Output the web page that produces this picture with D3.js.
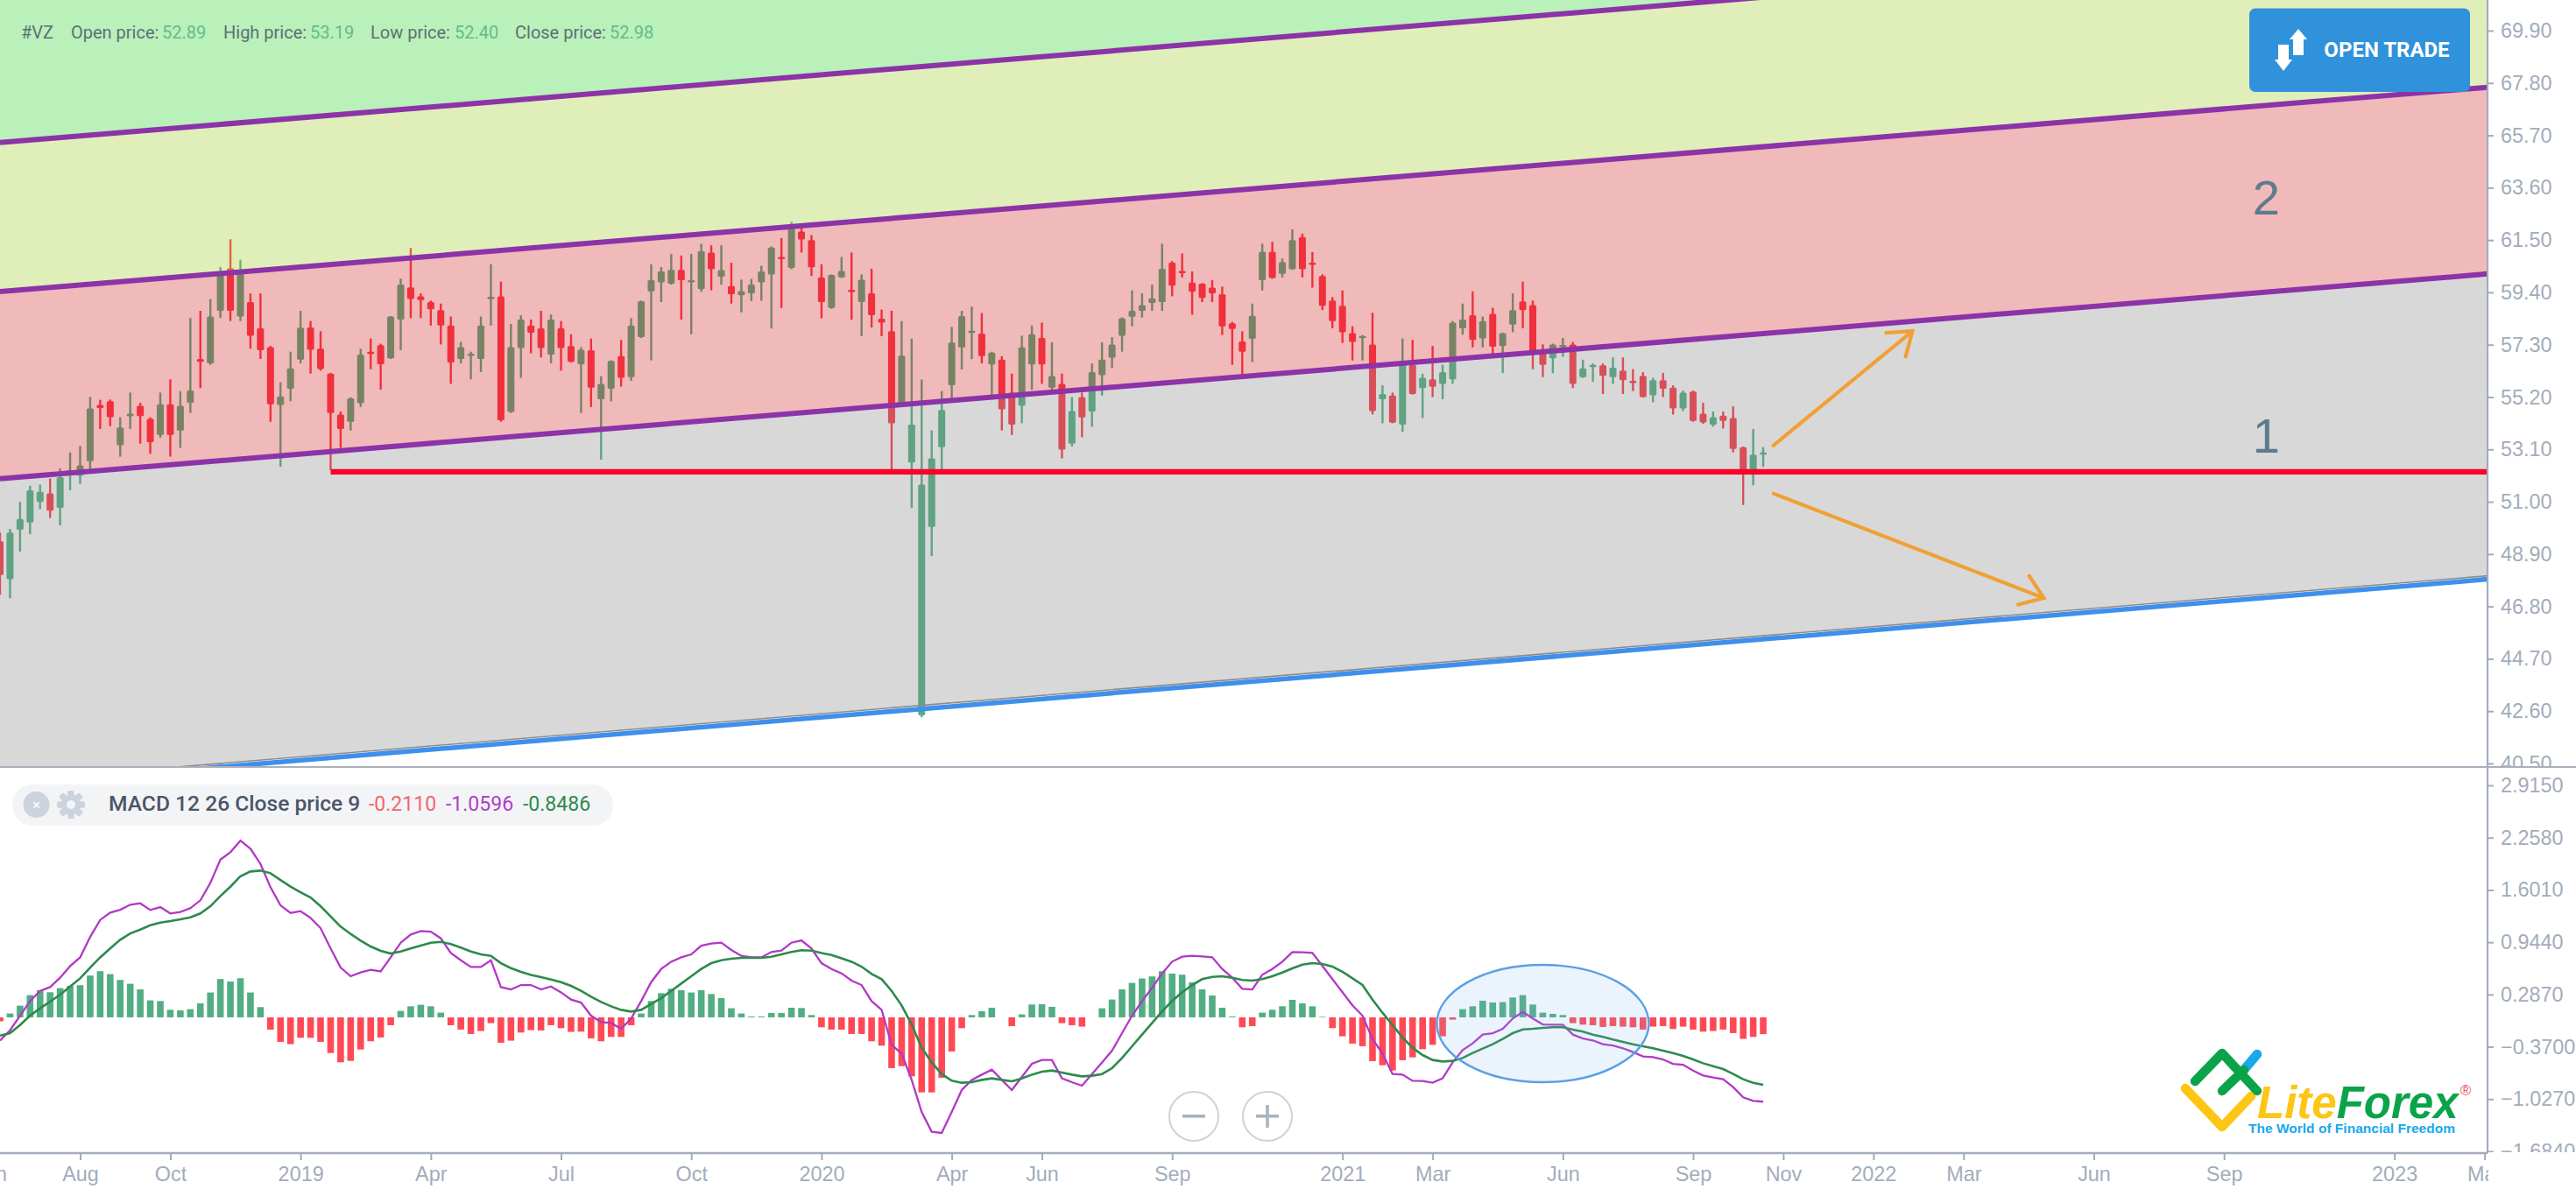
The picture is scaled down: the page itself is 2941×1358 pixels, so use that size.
<!DOCTYPE html>
<html><head><meta charset="utf-8">
<script src="https://cdn.jsdelivr.net/npm/d3@7/dist/d3.min.js"></script>
<style>html,body{margin:0;padding:0;background:#fff;overflow:hidden}svg{display:block}</style>
</head><body><svg id="c" width="2941" height="1358"></svg>
<script>
// Weekly candles: index 0 is the first week visible on the left of the chart
const candleOpen=[49.41,47.89,49.88,50.17,50.99,51.34,50.76,52.2,52.05,52.63,
54.88,55.03,53.27,54.43,54.85,54.33,53.68,54.91,53.86,54.97,
56.73,56.55,58.66,60.36,58.43,59.01,57.96,57.2,54.88,55.53,
56.7,57.99,57.14,56.14,54.5,54.21,54.95,57.02,57.28,56.75,
58.31,59.6,59.24,59.01,58.69,58.07,56.73,56.88,56.73,59.19,
59.24,54.6,57.17,58.07,57.96,56.9,57.96,57.25,56.52,57.08,
55.11,55.53,56.84,56.0,57.61,59.44,59.8,59.75,60.3,59.83,
59.53,61.0,60.03,59.65,59.28,59.36,59.8,60.12,60.82,60.38,
61.84,61.5,60.0,58.77,60.0,59.5,59.01,59.36,58.34,57.84,
54.97,52.57,42.43,49.99,53.19,55.67,57.19,57.78,57.75,56.51,
56.7,55.38,54.85,56.51,57.57,55.58,55.73,53.33,55.2,54.62,
56.08,56.78,57.66,58.42,58.66,58.98,59.01,60.59,60.26,59.79,
59.75,59.59,59.33,58.16,57.43,57.54,59.89,61.03,60.14,60.33,
61.62,60.59,60.06,59.07,58.86,57.76,57.6,57.31,55.11,55.26,
54.09,56.49,55.56,55.91,55.73,55.91,57.96,58.48,57.55,58.54,
57.25,58.11,59.04,58.89,57.08,56.75,57.22,57.31,56.0,56.44,
56.47,56.0,56.26,55.85,56.05,55.27,55.88,55.58,54.74,55.42,
54.53,54.09,54.45,54.36,53.19,52.28,52.89];
const candleHigh=[49.76,49.91,50.99,51.64,51.69,51.93,52.34,52.98,53.24,55.21,
55.09,55.1,54.39,55.38,54.97,54.39,55.38,55.91,55.44,58.37,
58.66,59.13,60.42,61.53,60.71,59.36,59.36,57.25,55.79,57.02,
58.66,58.25,57.84,56.17,54.62,55.19,57.14,57.55,57.34,58.45,
59.95,61.18,59.36,59.07,58.95,58.43,57.41,57.02,58.43,60.53,
59.83,58.13,58.48,58.31,58.66,58.51,58.25,57.72,57.2,57.55,
56.03,56.67,57.49,58.37,59.07,60.53,60.42,60.94,60.88,60.94,
61.35,61.29,61.29,60.59,59.91,59.94,60.47,61.24,61.58,62.23,
61.99,61.7,60.53,60.12,60.82,61.0,60.12,60.35,58.71,58.66,
58.25,57.54,55.9,53.86,55.44,58.01,58.66,58.83,58.57,57.02,
56.84,56.14,57.66,58.07,58.19,57.4,56.14,55.2,55.38,56.55,
57.4,57.6,58.4,59.48,59.36,59.71,61.35,60.65,60.96,60.24,
59.77,59.89,59.63,58.22,57.84,58.95,61.35,61.43,60.76,61.93,
61.76,61.02,60.12,59.21,59.48,58.04,57.69,58.58,55.67,55.38,
57.55,57.49,56.14,57.25,56.49,58.25,58.95,59.44,58.43,58.78,
57.78,59.36,59.83,59.07,57.31,57.34,57.57,57.41,56.7,56.55,
56.55,56.79,56.79,56.32,56.2,55.97,56.17,55.67,55.46,55.46,
54.97,54.62,54.62,54.83,53.21,53.92,53.19];
const candleLow=[47.27,47.13,49.0,49.70,50.70,50.35,50.05,51.46,51.72,52.28,
53.92,54.03,52.81,53.92,53.33,52.92,53.57,52.81,53.16,54.56,
55.56,56.49,58.37,58.25,58.25,57.14,56.73,54.21,52.4,55.03,
56.55,56.14,56.26,52.28,53.16,53.86,54.8,56.32,55.5,56.73,
57.08,58.37,58.37,58.07,57.31,55.73,56.55,55.91,56.2,58.07,
54.21,54.56,55.97,56.96,56.79,56.55,56.26,56.59,54.56,54.8,
52.69,55.03,55.62,55.85,57.57,56.67,59.01,59.71,58.31,57.72,
59.42,59.48,59.71,58.95,58.6,59.05,59.07,57.95,58.77,60.33,
61.0,60.06,58.36,58.74,59.98,58.3,57.64,57.99,57.64,52.22,
54.85,50.75,42.35,48.82,52.1,55.08,56.31,56.72,56.55,55.26,
53.86,53.68,54.15,55.49,55.73,55.38,52.74,53.22,53.59,54.01,
55.26,56.37,57.02,58.04,58.39,58.66,58.66,59.24,60.0,58.5,
59.01,59.01,57.69,56.49,56.02,56.61,59.48,59.95,60.0,60.3,
60.0,59.59,58.69,57.96,57.37,56.67,56.67,54.5,54.15,54.15,
53.8,55.3,54.36,55.2,55.11,55.73,57.7,57.19,57.19,56.87,
56.16,57.8,57.96,56.32,56.0,56.16,56.82,55.56,55.97,55.81,
55.32,55.73,55.32,55.44,55.18,54.99,55.2,54.5,54.64,54.21,
54.13,54.01,53.94,52.98,50.87,51.66,52.40];
const candleClose=[48.06,49.76,50.31,51.46,51.40,50.64,51.99,52.26,52.46,54.74,
54.76,54.39,53.98,54.53,54.44,53.39,54.91,53.68,54.85,55.46,
56.61,58.43,60.12,58.66,60.24,57.66,57.08,54.91,55.23,56.35,
57.98,57.1,56.32,54.56,53.92,55.15,56.9,56.93,56.52,58.43,
59.71,59.13,59.09,58.72,58.07,56.59,57.2,56.94,58.07,59.22,
54.27,57.2,58.31,57.78,57.17,58.31,57.17,56.61,57.1,55.58,
55.73,56.65,55.97,58.07,59.05,59.89,60.24,60.3,59.89,59.89,
61.06,60.33,60.29,59.33,59.45,59.71,60.24,61.2,60.77,61.99,
61.52,60.41,59.01,60.1,60.26,59.42,59.91,58.48,58.19,54.15,
56.86,54.09,51.69,52.74,54.68,57.39,58.45,57.86,56.84,56.98,
54.71,54.09,57.19,57.72,56.51,56.04,53.09,54.64,54.38,56.2,
56.7,57.31,58.36,58.66,58.89,59.16,60.35,59.67,60.21,59.42,
59.18,59.36,58.04,57.93,57.02,58.46,61.03,59.98,60.61,61.5,
60.33,60.5,58.86,58.25,57.8,57.41,57.65,54.64,55.32,54.17,
56.49,55.32,55.97,55.61,56.2,58.19,58.31,57.49,58.25,57.22,
57.76,58.69,58.69,57.02,56.49,57.31,57.29,55.73,56.35,56.49,
56.05,56.38,55.88,55.77,55.2,55.88,55.53,54.74,55.38,54.24,
54.18,54.39,54.24,53.12,52.22,52.89,52.98];

// MACD panel, same weeks as the candles
const macdHist=[-.05,.048,.147,.279,.341,.315,.367,.396,.404,.525,
.58,.543,.47,.422,.352,.213,.205,.095,.088,.103,
.176,.312,.481,.451,.492,.312,.128,-.154,-.308,-.337,
-.257,-.257,-.308,-.448,-.565,-.547,-.404,-.301,-.253,-.099,
.081,.139,.158,.139,.059,-.099,-.154,-.209,-.172,-.073,
-.319,-.293,-.191,-.161,-.165,-.099,-.136,-.183,-.18,-.264,
-.301,-.246,-.246,-.099,.048,.205,.304,.36,.341,.312,
.341,.293,.242,.114,.048,.011,.011,.055,.055,.121,
.117,.029,-.125,-.154,-.154,-.209,-.209,-.301,-.356,-.638,
-.613,-.741,-.943,-.943,-.759,-.429,-.136,.029,.077,.121,
0,-.11,.037,.161,.165,.132,-.073,-.099,-.117,0,
.114,.224,.352,.433,.488,.514,.58,.55,.536,.44,
.352,.275,.121,.011,-.125,-.11,.059,.095,.139,.22,
.176,.139,.007,-.136,-.238,-.33,-.363,-.55,-.602,-.668,
-.539,-.503,-.4,-.345,-.238,-.029,.103,.139,.209,.187,
.191,.249,.279,.161,.059,.044,.029,-.073,-.092,-.099,
-.121,-.11,-.117,-.125,-.154,-.117,-.11,-.147,-.117,-.154,
-.18,-.172,-.154,-.198,-.271,-.246,-.211];
const macdLine=[-.291,-.163,.021,.204,.333,.38,.498,.644,.754,1.011,
1.224,1.316,1.352,1.415,1.433,1.349,1.385,1.305,1.323,1.371,
1.47,1.69,1.983,2.075,2.222,2.119,1.928,1.635,1.407,1.312,
1.334,1.25,1.121,.865,.626,.516,.564,.597,.578,.754,
.938,1.041,1.085,1.077,.993,.809,.718,.633,.633,.718,
.38,.351,.406,.406,.351,.388,.314,.223,.186,.021,
-.06,-.071,-.144,-.016,.204,.443,.608,.699,.754,.791,
.901,.927,.938,.846,.773,.754,.754,.821,.839,.938,
.967,.865,.681,.608,.553,.461,.406,.204,.095,-.345,
-.455,-.786,-1.189,-1.438,-1.453,-1.189,-.914,-.786,-.72,-.657,
-.786,-.914,-.749,-.584,-.536,-.536,-.767,-.815,-.859,-.712,
-.566,-.419,-.199,.021,.205,.37,.553,.7,.762,.773,
.766,.755,.608,.498,.359,.351,.535,.608,.7,.821,
.817,.81,.645,.48,.315,.15,.021,-.272,-.455,-.712,
-.72,-.797,-.8,-.822,-.767,-.566,-.411,-.327,-.217,-.199,
-.144,-.015,.069,-.015,-.089,-.092,-.092,-.217,-.265,-.29,
-.338,-.353,-.389,-.437,-.492,-.5,-.529,-.584,-.595,-.668,
-.731,-.756,-.778,-.877,-1.006,-1.05,-1.0596];
const macdSignal=[-.229,-.199,-.097,.021,.113,.197,.285,.388,.49,.626,
.754,.865,.975,1.055,1.103,1.158,1.191,1.209,1.231,1.257,
1.305,1.396,1.525,1.642,1.774,1.833,1.844,1.811,1.726,1.642,
1.572,1.506,1.396,1.268,1.14,1.048,.964,.89,.835,.802,
.828,.865,.901,.938,.949,.92,.876,.828,.791,.773,
.681,.619,.571,.534,.505,.476,.443,.395,.333,.259,
.193,.138,.094,.072,.094,.168,.241,.333,.424,.516,
.608,.681,.718,.736,.747,.747,.747,.762,.791,.821,
.843,.839,.809,.784,.743,.699,.637,.546,.48,.333,
.15,-.089,-.382,-.566,-.712,-.797,-.822,-.815,-.786,-.767,
-.786,-.804,-.767,-.72,-.683,-.668,-.694,-.72,-.742,-.734,
-.712,-.639,-.511,-.364,-.217,-.07,.076,.205,.315,.406,
.48,.509,.517,.498,.469,.462,.48,.517,.564,.616,
.663,.682,.671,.638,.572,.491,.406,.223,.058,-.096,
-.254,-.382,-.474,-.536,-.555,-.547,-.511,-.448,-.393,-.338,
-.272,-.199,-.151,-.144,-.133,-.125,-.125,-.155,-.18,-.217,
-.246,-.279,-.309,-.338,-.364,-.389,-.419,-.448,-.485,-.529,
-.577,-.613,-.65,-.712,-.778,-.822,-.8486];

// Axis labels
const priceTicks=[69.9,67.8,65.7,63.6,61.5,59.4,57.3,55.2,53.1,51.0,48.9,46.8,44.7,42.6,40.5];
const macdTicks=[2.915,2.258,1.601,.944,.287,-.37,-1.027,-1.684];
const timeTickWeeks=[-1,8,17,30,43,56,69,82,95,104,117,134,143,156,169,178,187,196,209,222,239,248];
const timeTickLabels=["Jun","Aug","Oct","2019","Apr","Jul","Oct","2020","Apr","Jun","Sep","2021","Mar","Jun","Sep","Nov","2022","Mar","Jun","Sep","2023","Mar"];

// Channel lines (week at both ends of the chart, price at those weeks)
const channelWeeks=[0,248.3];
const channelBlue=[39.63,47.89];
const channelGrey=[39.77,48.03];
const channelOne=[51.92,60.14];
const channelTwo=[59.43,67.63];
const channelThree=[65.41,73.64];
const channelRoof=[90,90];
const supportPrice=52.2, supportStartWeek=33;
const upArrowWeeks=[176.9,190.9], upArrowPrices=[53.22,57.85];
const downArrowWeeks=[176.9,204], downArrowPrices=[51.35,47.14];
const circleWeek=154, circleValue=-.078;
const zoneLabels=["2","1"], zoneLabelWeek=226.2, zoneLabelPrices=[62.52,52.97];

const PW=2840, mainBottom=876, panelBottom=1317;
const svg=d3.select("#c");
const x=d3.scaleLinear().domain([0,248.3]).range([0,PW]);
const y=d3.scaleLinear().domain([69.9,40.5]).range([35,872]);
const ym=d3.scaleLinear().domain([2.915,-1.684]).range([897,1315]);

const defs=svg.append("defs");
const clip=(id,a,b,w,h)=>defs.append("clipPath").attr("id",id).append("rect").attr("x",a).attr("y",b).attr("width",w).attr("height",h);
clip("main",0,0,PW,mainBottom);
clip("panel",0,mainBottom,PW,panelBottom-mainBottom);
clip("ya",PW,0,120,mainBottom);
clip("yb",PW,mainBottom,120,panelBottom-mainBottom-1);
clip("xa",0,panelBottom,PW+1,50);

const main=svg.append("g").attr("clip-path","url(#main)");
const idx=d3.range(candleOpen.length);
const GREEN="#53b285", RED="#ff3c4b";
const col=i=>candleClose[i]>=candleOpen[i]?GREEN:RED;

// candles sit under the translucent channel fills
const cg=main.append("g");
cg.selectAll("line").data(idx).join("line")
  .attr("x1",i=>x(i)).attr("x2",i=>x(i))
  .attr("y1",i=>y(candleHigh[i])).attr("y2",i=>y(candleLow[i]))
  .attr("stroke",col).attr("stroke-width",2.4);
cg.selectAll("rect").data(idx).join("rect")
  .attr("x",i=>x(i)-4).attr("width",8).attr("rx",1.5)
  .attr("y",i=>Math.min(y(candleOpen[i]),y(candleClose[i])))
  .attr("height",i=>Math.max(2.5,Math.abs(y(candleOpen[i])-y(candleClose[i]))))
  .attr("fill",col);

const band=(lo,hi,fill)=>main.append("path")
  .attr("d",d3.area().x(d=>x(d)).y0((d,i)=>y(lo[i])).y1((d,i)=>y(hi[i]))(channelWeeks))
  .attr("fill",fill).attr("fill-opacity",.3);
band(channelGrey,channelOne,"rgb(125,125,125)");
band(channelOne,channelTwo,"rgb(205,22,28)");
band(channelTwo,channelThree,"rgb(152,198,28)");
band(channelThree,channelRoof,"rgb(28,205,28)");

const chLine=(vals,stroke,w)=>main.append("path")
  .attr("d",d3.line().x(d=>x(d)).y((d,i)=>y(vals[i]))(channelWeeks))
  .attr("fill","none").attr("stroke",stroke).attr("stroke-width",w);
chLine(channelGrey,"#8f8a86",1.6);
chLine(channelBlue,"#3f8fec",5.5);
chLine(channelOne,"#8c33a8",6);
chLine(channelTwo,"#8c33a8",6);
chLine(channelThree,"#8c33a8",6);

main.append("line").attr("x1",x(supportStartWeek)).attr("x2",PW)
  .attr("y1",y(supportPrice)).attr("y2",y(supportPrice))
  .attr("stroke","#fb0028").attr("stroke-width",6.4);

// forecast arrows
const arrow=(wk,pr)=>{
  const [x0,x1]=wk.map(x),[y0,y1]=pr.map(y);
  const a=Math.atan2(y1-y0,x1-x0),L=32,s=.62;
  const h=(t)=>[x1-L*Math.cos(a+t),y1-L*Math.sin(a+t)];
  const d=d3.path();
  d.moveTo(x0,y0);d.lineTo(x1,y1);
  const p=h(s),q=h(-s);
  d.moveTo(p[0],p[1]);d.lineTo(x1,y1);d.lineTo(q[0],q[1]);
  main.append("path").attr("d",d.toString()).attr("fill","none")
    .attr("stroke","#f0a035").attr("stroke-width",4.2);
};
arrow(upArrowWeeks,upArrowPrices);
arrow(downArrowWeeks,downArrowPrices);

zoneLabels.forEach((t,i)=>main.append("text").attr("x",x(zoneLabelWeek)).attr("y",y(zoneLabelPrices[i])).text(t)
  .attr("text-anchor","middle").attr("font-family","Liberation Sans, Arial, sans-serif")
  .attr("font-size",56).attr("fill","#5e7b8d"));

// header
const hdr=svg.append("text").attr("y",44).attr("font-family","Roboto, sans-serif").attr("font-size",20);
const hdrItems=[["#VZ",24,"#5a7077"],["Open price:",81,"#5a7077"],["52.89",185,"#62bc8c"],["High price:",255,"#5a7077"],["53.19",354,"#62bc8c"],["Low price:",423,"#5a7077"],["52.40",519,"#62bc8c"],["Close price:",588,"#5a7077"],["52.98",696,"#62bc8c"]];
hdrItems.forEach(d=>hdr.append("tspan").attr("x",d[1]).attr("fill",d[2]).text(d[0]));

// button
svg.append("rect").attr("x",2568).attr("y",9.5).attr("width",252).attr("height",95.5).attr("rx",7).attr("fill","#3092db");
svg.append("path").attr("fill","#fff").attr("d","M2624 33L2634 45L2630 45L2630 63L2618 63L2618 45L2614 45ZM2607 81L2617 68L2613 68L2613 51L2601 51L2601 68L2597 68Z");
svg.append("text").attr("x",2725).attr("y",65).attr("text-anchor","middle").attr("font-family","Roboto, sans-serif").attr("font-weight",700).attr("font-size",24).attr("fill","#fff").text("OPEN TRADE");

// MACD panel
const panel=svg.append("g").attr("clip-path","url(#panel)");
panel.append("g").selectAll("rect").data(idx).join("rect")
  .attr("x",i=>x(i)-3.8).attr("width",7.6)
  .attr("y",i=>Math.min(ym(0),ym(macdHist[i])))
  .attr("height",i=>Math.abs(ym(0)-ym(macdHist[i])))
  .attr("fill",i=>macdHist[i]>=0?"#52ad83":"#ff4a56");
const ln=d3.line().x((d,i)=>x(i)).y(d=>ym(d));
panel.append("path").attr("d",ln(macdLine)).attr("fill","none").attr("stroke","#b238c6").attr("stroke-width",2.3);
panel.append("path").attr("d",ln(macdSignal)).attr("fill","none").attr("stroke","#2d8a4c").attr("stroke-width",2.6);
panel.append("ellipse").attr("cx",x(circleWeek)).attr("cy",ym(circleValue)).attr("rx",121).attr("ry",67)
  .attr("fill","#7ab4ee").attr("fill-opacity",.15).attr("stroke","#5b9fe6").attr("stroke-width",2.4);

// MACD legend pill
svg.append("rect").attr("x",14).attr("y",896).attr("width",686).attr("height",47).attr("rx",23).attr("fill","#f3f4f6");
svg.append("circle").attr("cx",41.5).attr("cy",919).attr("r",15).attr("fill","#ccd3dd");
svg.append("text").attr("x",41.5).attr("y",925).attr("text-anchor","middle").attr("font-family","Roboto, sans-serif").attr("font-size",17).attr("fill","#fff").text("×");
const gear=svg.append("g").attr("transform","translate(81,919)");
d3.range(8).forEach(k=>gear.append("rect").attr("x",-3.5).attr("y",-16).attr("width",7).attr("height",32).attr("rx",1.5).attr("fill","#ccd3dd").attr("transform",`rotate(${k*45})`));
gear.append("circle").attr("r",11.5).attr("fill","#ccd3dd");
gear.append("circle").attr("r",5).attr("fill","#f3f4f6");
const pill=[["MACD 12 26 Close price 9",124,"#4b5669",24.6,500],["-0.2110",421,"#f4646e",23,400],["-1.0596",509,"#b03fc4",23,400],["-0.8486",597,"#2d8a4c",23,400]];
pill.forEach(d=>svg.append("text").attr("x",d[1]).attr("y",926).attr("font-family","Roboto, sans-serif").attr("font-weight",d[4]).attr("font-size",d[3]).attr("fill",d[2]).text(d[0]));

// zoom buttons
[[1363,"-"],[1447,"+"]].forEach(d=>{
  svg.append("circle").attr("cx",d[0]).attr("cy",1275).attr("r",28).attr("fill","#fff").attr("stroke","#ced3da").attr("stroke-width",2);
  svg.append("rect").attr("x",d[0]-13).attr("y",1273).attr("width",26).attr("height",3.6).attr("fill","#aab4c1");
  if(d[1]==="+")svg.append("rect").attr("x",d[0]-1.8).attr("y",1262).attr("width",3.6).attr("height",26).attr("fill","#aab4c1");
});

// axes
const AX="#a3acbb";
const styleAxis=(g)=>{
  g.select(".domain").remove();
  g.selectAll("line").attr("stroke",AX).attr("stroke-width",2);
  g.selectAll("text").attr("fill",AX).attr("font-size",23.4).attr("font-family","Liberation Sans, Arial, sans-serif");
};
const ya=svg.append("g").attr("clip-path","url(#ya)").append("g").attr("transform",`translate(${PW},0)`)
  .call(d3.axisRight(y).tickValues(priceTicks).tickSize(7).tickPadding(8).tickFormat(d3.format(".2f")));
styleAxis(ya);
const yb=svg.append("g").attr("clip-path","url(#yb)").append("g").attr("transform",`translate(${PW},0)`)
  .call(d3.axisRight(ym).tickValues(macdTicks).tickSize(7).tickPadding(8).tickFormat(d3.format(".4f")));
styleAxis(yb);
const xa=svg.append("g").attr("clip-path","url(#xa)").append("g").attr("transform",`translate(0,${panelBottom})`)
  .call(d3.axisBottom(x).tickValues(timeTickWeeks).tickSize(8).tickPadding(7).tickFormat(d=>timeTickLabels[timeTickWeeks.indexOf(d)]));
styleAxis(xa);

svg.append("line").attr("x1",PW).attr("x2",PW).attr("y1",0).attr("y2",panelBottom).attr("stroke",AX).attr("stroke-width",2.2);
svg.append("line").attr("x1",0).attr("x2",2941).attr("y1",mainBottom).attr("y2",mainBottom).attr("stroke","#aab0bb").attr("stroke-width",2);
svg.append("line").attr("x1",0).attr("x2",PW).attr("y1",panelBottom).attr("y2",panelBottom).attr("stroke",AX).attr("stroke-width",2.4);

// logo
const logo=svg.append("g").attr("fill","none").attr("stroke-linecap","round").attr("stroke-linejoin","round").attr("stroke-width",10.5);
logo.append("path").attr("stroke","#18a8ee").attr("d","M2561 1223L2577 1204");
logo.append("path").attr("stroke","#fdc514").attr("d","M2495 1243L2537 1287L2570 1252");
logo.append("path").attr("stroke","#0aa34a").attr("d","M2506 1235L2537 1203L2577 1246M2537 1246L2562 1222");
svg.append("text").attr("x",2577).attr("y",1277).attr("font-family","Liberation Sans, Arial, sans-serif").attr("font-weight",700).attr("font-style","italic").attr("font-size",51)
  .call(t=>{t.append("tspan").attr("fill","#fdc514").text("Lite");t.append("tspan").attr("fill","#0aa34a").text("Forex");});
svg.append("text").attr("x",2815).attr("y",1251).attr("text-anchor","middle").attr("font-family","Liberation Sans, Arial, sans-serif").attr("font-size",17).attr("fill","#e25555").text("®");
svg.append("text").attr("x",2567).attr("y",1294).attr("textLength",236).attr("font-family","Liberation Sans, Arial, sans-serif").attr("font-weight",700).attr("font-size",15.5).attr("fill","#18a8ee").text("The World of Financial Freedom");
</script></body></html>
